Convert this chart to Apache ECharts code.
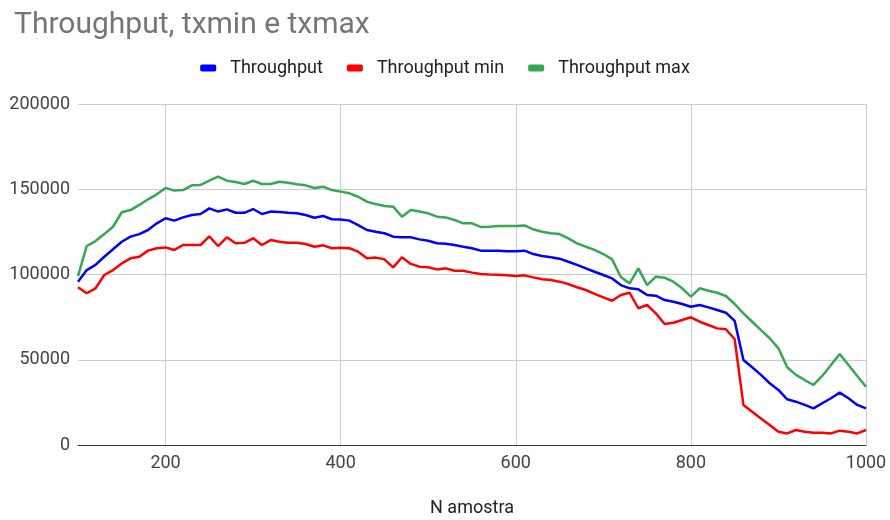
<!DOCTYPE html>
<html>
<head>
<meta charset="utf-8">
<script src="https://cdn.jsdelivr.net/npm/echarts@6/dist/echarts.min.js"></script>
<style>
  html, body { margin: 0; padding: 0; background: #fff; }
  #chart { width: 890px; height: 520px; }
</style>
</head>
<body>
<div id="chart"></div>
<script>
// Sample index (N amostra)
const samples = [
  100, 110, 120, 130, 140, 150, 160, 170, 180, 190,
  200, 210, 220, 230, 240, 250, 260, 270, 280, 290,
  300, 310, 320, 330, 340, 350, 360, 370, 380, 390,
  400, 410, 420, 430, 440, 450, 460, 470, 480, 490,
  500, 510, 520, 530, 540, 550, 560, 570, 580, 590,
  600, 610, 620, 630, 640, 650, 660, 670, 680, 690,
  700, 710, 720, 730, 740, 750, 760, 770, 780, 790,
  800, 810, 820, 830, 840, 850, 860, 870, 880, 890,
  900, 910, 920, 930, 940, 950, 960, 970, 980, 990,
  1000
];

// Average throughput
const throughput = [
  95800, 102600, 105600, 110400, 114800, 119200, 122200, 123700, 126100, 130000,
  133000, 131600, 133500, 134900, 135500, 138800, 136900, 138200, 136200, 136200,
  138400, 135500, 136900, 136700, 136200, 135900, 134900, 133300, 134300, 132400,
  132300, 131600, 129000, 126100, 125100, 124200, 122200, 121800, 121800, 120600,
  119800, 118300, 118000, 117300, 116300, 115400, 114000, 114000, 114000, 113600,
  113600, 114000, 112000, 110800, 110100, 109300, 107500, 105600, 103600, 101600,
  99700, 97700, 93800, 91900, 91300, 88000, 87600, 85000, 84000, 82700,
  81100, 82100, 80700, 79200, 77600, 72800, 49900, 45600, 41100, 36200,
  32300, 26800, 25400, 23500, 21500, 24500, 27400, 30700, 27400, 23500,
  21500
];

// Minimum throughput
const throughputMin = [
  92500, 89000, 91900, 99700, 102600, 106500, 109500, 110400, 114000, 115400,
  115900, 114400, 117300, 117300, 117300, 122400, 116700, 121800, 118300, 118600,
  121200, 117300, 120200, 119200, 118600, 118600, 117900, 116300, 117100, 115400,
  115700, 115400, 113400, 109500, 109900, 108900, 104200, 110100, 106200, 104600,
  104200, 103000, 103600, 102200, 102200, 101100, 100300, 100000, 99900, 99500,
  99100, 99500, 98300, 97200, 96800, 95800, 94400, 92500, 90900, 88600,
  86600, 84600, 88000, 89300, 80200, 82100, 77200, 71000, 71700, 73300,
  74900, 72300, 70400, 68400, 67900, 62000, 23500, 19500, 15600, 11700,
  7800, 6800, 8800, 7800, 7200, 7200, 6800, 8400, 7800, 6800,
  8800
];

// Maximum throughput
const throughputMax = [
  99000, 116700, 119600, 123700, 128000, 136500, 137800, 140800, 144100, 147000,
  150800, 149200, 149500, 152300, 152500, 155000, 157400, 155000, 154200, 153100,
  155000, 153100, 153100, 154400, 153800, 152900, 152300, 150700, 151500, 149500,
  148600, 147600, 145600, 142700, 141300, 140200, 139800, 133900, 137800, 136900,
  135900, 133900, 133500, 132000, 130000, 130000, 127900, 128000, 128400, 128400,
  128400, 128800, 126500, 125100, 124200, 123700, 121200, 118300, 116300, 114400,
  112000, 108900, 98500, 94800, 103600, 93800, 98700, 98100, 95800, 91900,
  87000, 91900, 90500, 89300, 87400, 82700, 77200, 72300, 67400, 62600,
  56700, 45600, 41100, 38100, 35200, 40500, 46900, 53400, 46900, 40500,
  34200
];

const seriesNames = ['Throughput', 'Throughput min', 'Throughput max'];
const seriesColors = ['#0000ff', '#ff0000', '#34a853'];
const seriesValues = [throughput, throughputMin, throughputMax];

const FONT = 'Roboto, Arial, sans-serif';

const chart = echarts.init(document.getElementById('chart'), null, { renderer: 'canvas' });

chart.setOption({
  animation: false,
  backgroundColor: '#ffffff',
  title: {
    text: 'Throughput, txmin e txmax',
    left: 9,
    top: 5,
    textStyle: { fontFamily: FONT, fontSize: 30, fontWeight: 'normal', color: '#757575' }
  },
  legend: {
    top: 54,
    left: 'center',
    icon: 'roundRect',
    itemWidth: 16,
    itemHeight: 7,
    itemGap: 24,
    textStyle: { fontFamily: FONT, fontSize: 18, color: '#222222', padding: [0, 0, 0, 9] },
    data: seriesNames
  },
  grid: { left: 78, right: 24, top: 104, bottom: 75, containLabel: false, outerBoundsMode: 'none' },
  xAxis: {
    type: 'value',
    min: 100,
    max: 1000,
    interval: 100,
    name: 'N amostra',
    nameLocation: 'middle',
    nameGap: 54,
    nameTextStyle: { fontFamily: FONT, fontSize: 18, color: '#222222' },
    axisLine: { show: true, lineStyle: { color: '#333333', width: 1 } },
    axisTick: { show: false },
    axisLabel: {
      fontFamily: FONT, fontSize: 18, color: '#444444', margin: 9,
      formatter: v => (v % 200 === 0 ? String(v) : '')
    },
    splitLine: { show: true, lineStyle: { color: ['rgba(0,0,0,0)', '#cccccc'], width: 1 } }
  },
  yAxis: {
    type: 'value',
    min: 0,
    max: 200000,
    interval: 50000,
    axisLine: { show: false },
    axisTick: { show: false },
    axisLabel: {
      fontFamily: FONT, fontSize: 18, color: '#444444', margin: 8,
      formatter: v => String(v)
    },
    splitLine: { show: true, lineStyle: { color: '#cccccc', width: 1 } }
  },
  series: seriesNames.map((name, i) => ({
    name: name,
    type: 'line',
    data: samples.map((x, j) => [x, seriesValues[i][j]]),
    showSymbol: false,
    symbol: 'none',
    lineStyle: { color: seriesColors[i], width: 2.5 },
    itemStyle: { color: seriesColors[i] },
    z: 3 + i
  }))
});
</script>
</body>
</html>
